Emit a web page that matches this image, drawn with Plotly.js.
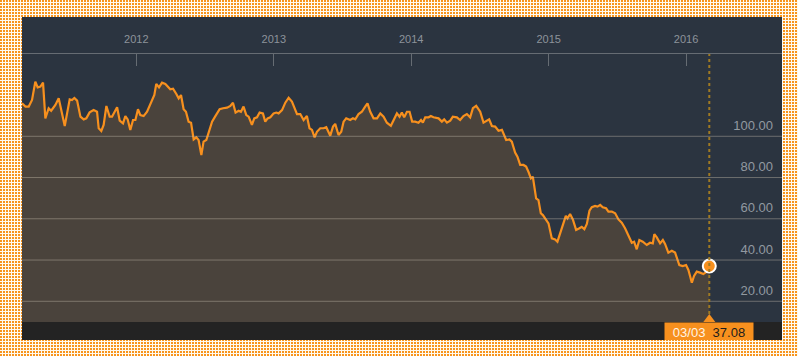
<!DOCTYPE html>
<html>
<head>
<meta charset="utf-8">
<script src="https://cdn.plot.ly/plotly-3.0.1.min.js"></script>
<style>
  html, body { margin: 0; padding: 0; }
  body {
    width: 798px; height: 356px; position: relative; overflow: hidden;
    background-color: #f7941d;
    background-image:
      linear-gradient(90deg, transparent 2px, #fffaf0 2px),
      linear-gradient(180deg, transparent 2px, #fffaf0 2px);
    background-size: 3px 3px;
  }
  #panel { position: absolute; left: 22px; top: 17px; width: 760px; height: 323px; background: #2b3440; }
  #strip { position: absolute; left: 22px; top: 322px; width: 760px; height: 18px; background: #232323; }
  #chart { position: absolute; left: 22px; top: 17px; width: 760px; height: 323px; }
</style>
</head>
<body>
<div id="panel"></div>
<div id="strip"></div>
<div id="chart"></div>
<script>
// Time in decimal years, price values
const years = [
  2011.168,2011.193,2011.217,2011.241,2011.265,2011.282,2011.302,2011.321,2011.338,2011.362,
  2011.380,2011.411,2011.435,2011.460,2011.479,2011.496,2011.515,2011.532,2011.549,2011.569,
  2011.593,2011.617,2011.636,2011.660,2011.689,2011.714,2011.726,2011.745,2011.762,2011.782,
  2011.806,2011.823,2011.860,2011.879,2011.903,2011.920,2011.937,2011.956,2011.976,2011.993,
  2012.012,2012.029,2012.053,2012.078,2012.114,2012.131,2012.145,2012.165,2012.187,2012.211,
  2012.247,2012.267,2012.291,2012.308,2012.325,2012.344,2012.361,2012.380,2012.398,2012.417,
  2012.436,2012.453,2012.473,2012.489,2012.509,2012.526,2012.551,2012.575,2012.606,2012.631,
  2012.660,2012.684,2012.703,2012.722,2012.744,2012.761,2012.780,2012.800,2012.817,2012.841,
  2012.858,2012.878,2012.897,2012.921,2012.938,2012.955,2012.975,2012.999,2013.018,2013.035,
  2013.060,2013.084,2013.108,2013.132,2013.149,2013.169,2013.193,2013.217,2013.241,2013.260,
  2013.278,2013.297,2013.314,2013.338,2013.362,2013.382,2013.411,2013.431,2013.447,2013.471,
  2013.491,2013.508,2013.527,2013.556,2013.576,2013.593,2013.617,2013.641,2013.665,2013.682,
  2013.702,2013.726,2013.751,2013.775,2013.799,2013.823,2013.852,2013.871,2013.896,2013.915,
  2013.932,2013.949,2013.969,2013.988,2014.007,2014.029,2014.053,2014.071,2014.085,2014.102,
  2014.126,2014.143,2014.162,2014.199,2014.223,2014.240,2014.260,2014.284,2014.303,2014.332,
  2014.356,2014.380,2014.405,2014.429,2014.449,2014.473,2014.502,2014.526,2014.551,2014.567,
  2014.587,2014.611,2014.635,2014.660,2014.691,2014.715,2014.732,2014.756,2014.773,2014.793,
  2014.817,2014.836,2014.853,2014.871,2014.885,2014.909,2014.926,2014.943,2014.958,2014.982,
  2014.999,2015.023,2015.047,2015.064,2015.084,2015.108,2015.125,2015.137,2015.156,2015.176,
  2015.200,2015.224,2015.241,2015.260,2015.278,2015.297,2015.314,2015.338,2015.355,2015.375,
  2015.394,2015.418,2015.435,2015.460,2015.484,2015.508,2015.532,2015.556,2015.580,2015.605,
  2015.622,2015.641,2015.660,2015.685,2015.714,2015.738,2015.758,2015.769,2015.787,2015.811,
  2015.831,2015.847,2015.871,2015.896,2015.920,2015.937,2015.951,2015.976,2016.000,2016.017,
  2016.042,2016.058,2016.078,2016.102,2016.126,2016.151,2016.169
];
const prices = [
  116.0,114.4,114.4,117.6,126.5,123.7,124.1,126.0,108.7,113.6,
  112.4,115.2,118.4,111.1,105.0,111.1,117.9,117.6,118.6,117.3,
  109.5,108.2,108.7,111.6,112.7,111.9,103.9,102.6,105.5,114.7,
  109.5,109.5,114.1,107.6,106.3,109.8,108.2,103.1,107.9,107.9,
  113.1,110.3,109.8,111.9,117.3,120.0,125.4,123.7,126.0,125.4,
  122.8,123.1,120.5,118.4,120.0,113.1,111.9,107.1,106.6,98.5,
  99.5,98.2,90.9,97.4,98.2,102.2,107.1,109.8,113.1,113.6,
  113.9,114.7,116.3,111.5,112.4,111.9,114.4,110.3,109.5,105.5,
  108.7,109.2,111.5,111.1,107.1,108.7,109.2,111.1,111.5,111.1,
  112.7,116.3,118.7,116.8,113.6,110.7,110.8,107.9,109.8,103.9,
  103.1,99.5,102.2,103.9,103.9,104.4,100.3,104.7,106.0,100.6,
  102.2,107.1,108.7,107.9,108.7,108.2,110.8,111.9,114.4,116.0,
  111.9,108.7,108.7,111.1,109.5,106.6,105.1,107.9,111.1,109.5,
  111.5,109.2,111.9,111.9,107.1,107.1,106.6,107.9,106.6,109.2,
  109.2,109.8,109.2,108.7,107.1,108.2,106.6,107.6,109.5,109.2,
  107.9,109.8,110.8,109.2,113.6,114.8,111.9,106.6,107.6,108.2,
  105.0,104.7,102.7,103.1,98.2,98.5,97.4,92.1,90.1,86.1,
  86.1,85.3,82.8,79.6,80.4,69.9,69.1,62.7,61.8,59.7,
  57.8,50.5,50.0,48.9,53.3,58.6,61.4,60.2,62.3,59.7,
  54.6,55.4,56.1,55.0,57.5,63.9,65.6,66.2,65.9,66.7,
  65.6,65.1,63.5,63.5,62.7,59.7,58.1,55.4,52.1,48.4,
  48.9,45.2,49.7,48.9,47.3,48.4,48.1,52.6,51.0,48.1,
  49.7,47.8,43.6,44.5,43.6,40.4,37.6,37.1,37.6,35.2,
  29.0,32.3,34.4,33.9,33.2,34.4,37.08
];
const yearTicks = [2012, 2013, 2014, 2015, 2016];
const yearLabels = ['2012', '2013', '2014', '2015', '2016'];
const priceTicks = [20, 40, 60, 80, 100];
const latestDateLabel = '03/03';

const xRange = [2011.168, 2016.698];
const yRange = [9.96, 139.9];
const ORANGE = '#f7901e';

const lastX = years[years.length - 1];
const lastY = prices[prices.length - 1];

const traces = [
  {
    x: years, y: prices, type: 'scatter', mode: 'lines',
    line: { color: ORANGE, width: 2.2 },
    fill: 'tozeroy', fillcolor: '#4a433c',
    hoverinfo: 'skip'
  },
  {
    x: [lastX], y: [lastY], type: 'scatter', mode: 'markers',
    marker: { size: 13, color: ORANGE, line: { color: '#ffffff', width: 2 } },
    cliponaxis: false, hoverinfo: 'skip'
  }
];

const shapes = priceTicks.map(v => ({
  type: 'line', xref: 'paper', x0: 0, x1: 1, yref: 'y', y0: v, y1: v,
  line: { color: 'rgba(200,190,175,0.42)', width: 1 }, layer: 'above'
}));
shapes.push({
  type: 'line', xref: 'x', x0: lastX, x1: lastX, yref: 'paper', y0: 0.03, y1: 1,
  line: { color: '#a07a22', width: 2, dash: 'dot' }, layer: 'above'
});
shapes.push({
  type: 'path', xref: 'x', yref: 'paper', xsizemode: 'pixel', ysizemode: 'pixel',
  xanchor: lastX, yanchor: 0,
  path: 'M -6 0 L 6 0 L 0 8 Z',
  fillcolor: ORANGE, line: { width: 0 }, layer: 'above'
});

const layout = {
  width: 760, height: 323,
  margin: { l: 0, r: 0, t: 37, b: 18, pad: 0 },
  paper_bgcolor: 'rgba(0,0,0,0)',
  plot_bgcolor: 'rgba(0,0,0,0)',
  showlegend: false,
  hovermode: false,
  font: { family: '"Liberation Sans", Arial, sans-serif', color: '#8d949c' },
  xaxis: {
    type: 'linear', range: xRange, side: 'top',
    showgrid: false, zeroline: false,
    showline: true, linecolor: '#666c73', linewidth: 1,
    ticks: 'inside', ticklen: 12, tickwidth: 1, tickcolor: '#666c73',
    tickvals: [xRange[0] + 0.004].concat(yearTicks, [xRange[1] - 0.004]),
    ticktext: [''].concat(yearLabels, ['']),
    tickfont: { size: 11, color: '#8d939b' },
    ticklabelstandoff: 6,
    fixedrange: true
  },
  yaxis: {
    range: yRange, side: 'right',
    showgrid: false, zeroline: false, showline: false,
    ticks: '', tickvals: priceTicks,
    ticktext: priceTicks.map(v => v.toFixed(2)),
    ticklabelposition: 'inside top',
    ticklabelstandoff: 6,
    ticklabelshift: -2,
    tickfont: { size: 13, color: '#9299a0' },
    fixedrange: true
  },
  shapes: shapes,
  annotations: [{
    xref: 'x', x: lastX, yref: 'paper', y: 0, yanchor: 'top', xanchor: 'center',
    showarrow: false, width: 88, height: 18, borderpad: 0,
    bgcolor: ORANGE,
    text: '<span style="color:#fff4e4">' + latestDateLabel + '</span>\u00a0\u00a0<span style="color:#1c1c1c">' + lastY.toFixed(2) + '</span>',
    font: { size: 13, family: '"Liberation Sans", Arial, sans-serif' }
  }]
};

Plotly.newPlot('chart', traces, layout, { displayModeBar: false, staticPlot: true });
</script>
</body>
</html>
